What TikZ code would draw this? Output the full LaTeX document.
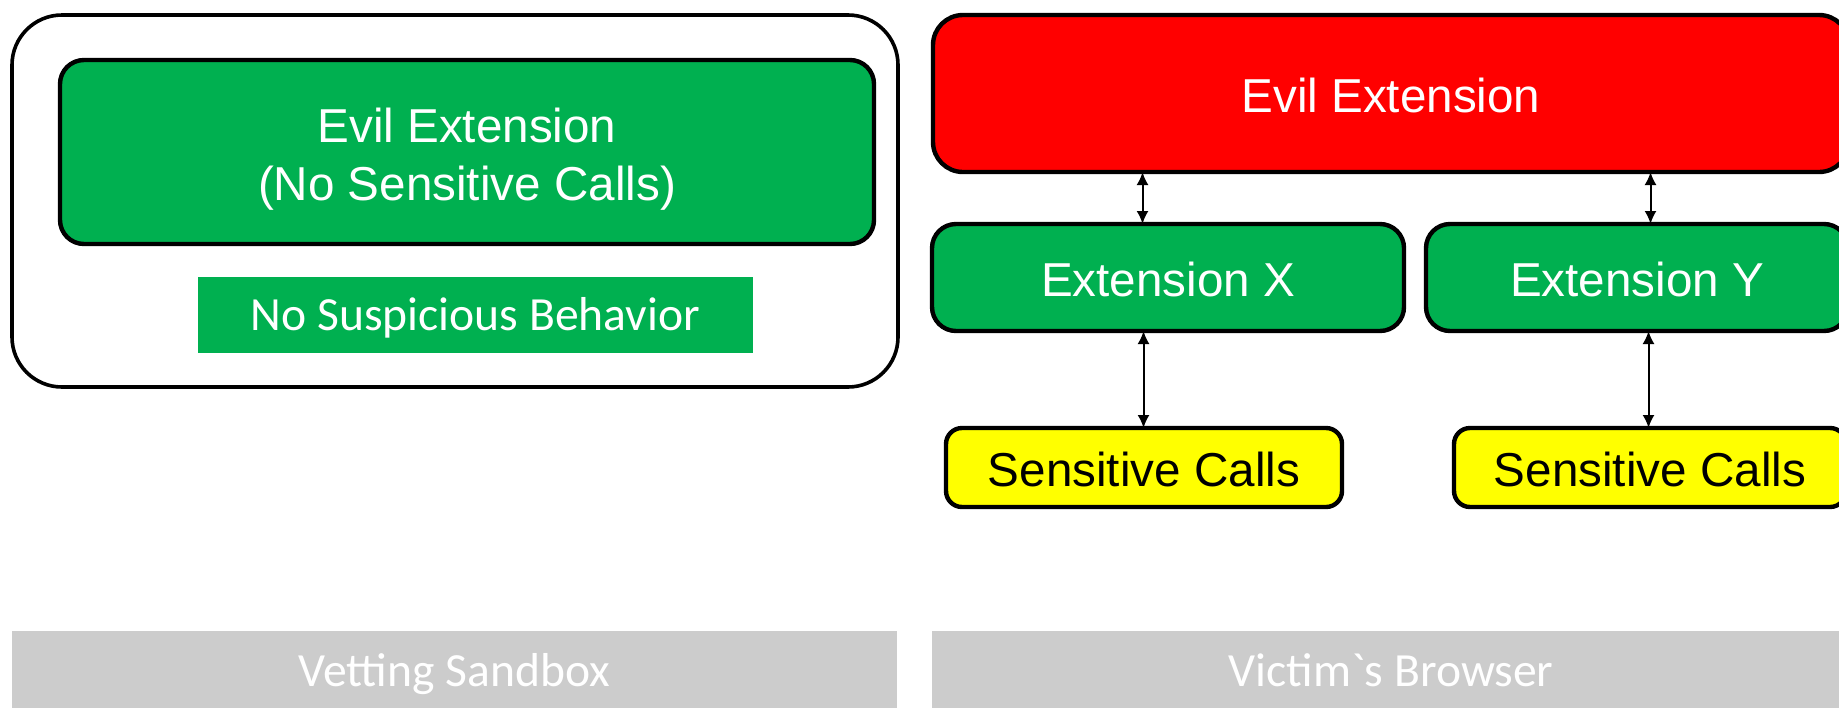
\documentclass[tikz,border=0pt]{standalone}
\usepackage{fontspec}
\setmainfont{Liberation Sans}
\newfontfamily\calibri{Carlito}
\usetikzlibrary{arrows.meta}
\definecolor{boxgreen}{HTML}{00B050}
\definecolor{boxred}{HTML}{FF0000}
\definecolor{boxyellow}{HTML}{FFFF00}
\definecolor{bargray}{HTML}{CCCCCC}
\begin{document}
\begin{tikzpicture}[x=0.5pt,y=-0.5pt,
  every node/.style={inner sep=0pt, outer sep=0pt, align=center},
  bigtext/.style={font=\fontsize{23.8pt}{29pt}\selectfont},
  caltext/.style={font=\calibri\fontsize{23.8pt}{29pt}\selectfont},
  % single-line labels: fixed box so the baselines line up
  arialline/.style={text height=22.6pt, text depth=4.05pt},
  calline/.style={text height=19.75pt, text depth=4.05pt},
  framebox/.style={draw=black, line width=1.8pt, fill=white, rounded corners=25pt},
  goodbox/.style={draw=black, line width=2.2pt, fill=boxgreen, text=white, bigtext, rounded corners=12pt},
  evilbox/.style={draw=black, line width=2.2pt, fill=boxred, text=white, bigtext, arialline, rounded corners=15pt},
  callbox/.style={draw=black, line width=2.2pt, fill=boxyellow, text=black, bigtext, arialline, rounded corners=8pt},
  notebox/.style={fill=boxgreen, text=white, caltext, calline},
  barbox/.style={fill=bargray, text=white, caltext, calline},
  link/.style={line width=1pt, {Latex[length=6.5pt,width=6pt]}-{Latex[length=6.5pt,width=6pt]}}]
\path[use as bounding box] (0,0) rectangle (1839,707);
\clip (0,0) rectangle (1839,707);

% vetting sandbox panel
\node[framebox, minimum width=443pt, minimum height=186pt] (sandbox) at (455,201) {};
\node[goodbox, minimum width=407pt, minimum height=92pt] (evilgood) at (467,152) {};
\node[bigtext, text=white] (evilgoodtext) at ([yshift=-3.5pt]evilgood.center)
  {Evil Extension\\(No Sensitive Calls)};
\node[notebox, minimum width=277.5pt, minimum height=38pt] (nosusp) at (475.5,315)
  {No Suspicious Behavior};

% victim's browser panel
\node[evilbox, minimum width=458pt, minimum height=78.5pt] (evil) at (1391,93.5) {Evil Extension};
\node[goodbox, arialline, minimum width=236pt, minimum height=53.5pt] (extx) at (1168,277.5) {Extension X};
\node[goodbox, arialline, minimum width=211pt, minimum height=53.5pt] (exty) at (1637,277.5) {Extension Y};
\node[callbox, minimum width=198pt, minimum height=39.5pt] (callsx) at (1144,467.5) {Sensitive Calls};
\node[callbox, minimum width=196pt, minimum height=39.5pt] (callsy) at (1650,467.5) {Sensitive Calls};

% captions
\node[barbox, minimum width=442.5pt, minimum height=40pt] (capl) at (454.5,671) {Vetting Sandbox};
\node[barbox, minimum width=459pt, minimum height=40pt] (capr) at (1391,671) {Victim`s Browser};

% connectors
\coordinate (ax) at (1142.5,0);
\coordinate (ay) at (1650.5,0);
\coordinate (bx) at (1143.5,0);
\coordinate (by) at (1648.5,0);
\draw[link] (evil.south -| ax) -- (extx.north -| ax);
\draw[link] (evil.south -| ay) -- (exty.north -| ay);
\draw[link] (extx.south -| bx) -- (callsx.north -| bx);
\draw[link] (exty.south -| by) -- (callsy.north -| by);
\end{tikzpicture}
\end{document}
